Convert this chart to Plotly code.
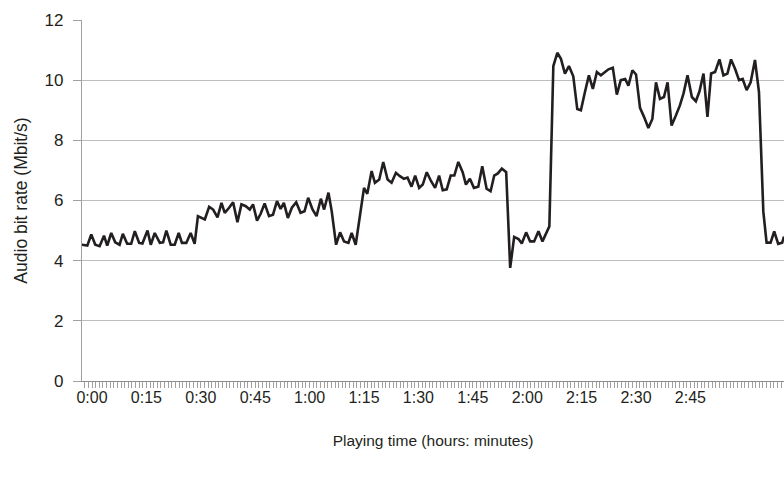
import plotly.graph_objects as go

# Playing time in minutes (0 = "0:00") and audio bit rate in Mbit/s
time_min = [
    -2.8, -1.3, -0.2, 0.9, 2.1, 3.3, 4.2, 5.3, 6.4, 7.6, 8.5, 9.7, 10.8, 11.8, 13.0, 13.9,
    15.3, 16.2, 17.3, 18.7, 19.6, 20.5, 21.7, 22.8, 23.9, 24.8, 26.0, 27.2, 28.3, 29.2,
    31.1, 32.3, 33.4, 34.6, 35.7, 36.6, 37.8, 38.9, 40.1, 41.2, 42.4, 43.5, 44.4, 45.5,
    46.5, 47.6, 48.8, 49.9, 51.0, 52.0, 52.9, 54.0, 55.1, 56.3, 57.5, 58.6, 59.6, 60.8,
    61.9, 63.1, 64.0, 65.2, 66.1, 67.3, 68.4, 69.5, 70.7, 71.6, 72.7, 73.9, 75.0, 75.9,
    77.1, 78.0, 79.2, 80.3, 81.5, 82.6, 83.8, 84.9, 86.0, 87.0, 88.1, 89.1, 90.2, 91.2,
    92.3, 93.5, 94.6, 95.7, 96.7, 97.8, 98.9, 99.9, 101.0, 102.2, 103.1, 104.2, 105.3,
    106.5, 107.6, 108.8, 109.9, 110.9, 111.9, 113.0, 114.2, 115.3, 116.4, 117.6, 118.5,
    119.7, 120.8, 121.9, 123.1, 124.2, 125.2, 126.1, 127.2, 128.3, 129.3, 130.4, 131.5,
    132.7, 133.8, 134.8, 135.9, 137.0, 138.1, 139.2, 140.3, 141.3, 142.4, 143.6, 144.7,
    145.8, 147.0, 147.9, 149.0, 150.0, 151.1, 152.2, 153.4, 154.5, 155.5, 156.6, 157.7,
    158.7, 159.8, 160.9, 162.1, 163.1, 164.2, 165.4, 166.5, 167.5, 168.6, 169.7, 170.7,
    171.8, 173.0, 174.1, 175.2, 176.2, 177.3, 178.4, 179.4, 180.5, 181.6, 182.8, 183.9,
    185.1, 186.0, 187.1, 188.1, 189.2, 190.3, 190.8,
]
bit_rate = [
    4.53, 4.50, 4.87, 4.53, 4.48, 4.83, 4.50, 4.92, 4.61, 4.53, 4.89, 4.56, 4.56, 4.98, 4.59, 4.57,
    5.00, 4.53, 4.92, 4.59, 4.61, 5.00, 4.53, 4.53, 4.92, 4.59, 4.59, 4.92, 4.56, 5.48,
    5.37, 5.79, 5.70, 5.44, 5.92, 5.59, 5.76, 5.94, 5.28, 5.87, 5.81, 5.70, 5.87, 5.33,
    5.56, 5.90, 5.48, 5.53, 5.98, 5.72, 5.92, 5.42, 5.76, 5.94, 5.59, 5.64, 6.09, 5.70,
    5.48, 6.06, 5.70, 6.26, 5.64, 4.53, 4.94, 4.64, 4.59, 4.92, 4.53, 5.48, 6.42, 6.22,
    6.98, 6.59, 6.70, 7.28, 6.70, 6.59, 6.92, 6.81, 6.72, 6.76, 6.46, 6.83, 6.42, 6.53,
    6.94, 6.64, 6.42, 6.83, 6.34, 6.37, 6.83, 6.83, 7.28, 6.94, 6.53, 6.72, 6.42,
    6.46, 7.14, 6.39, 6.31, 6.83, 6.90, 7.06, 6.94, 3.76, 4.79, 4.72, 4.57,
    4.94, 4.64, 4.64, 4.98, 4.64, 4.92, 5.14, 10.47, 10.91, 10.71, 10.22, 10.47,
    10.13, 9.04, 9.00, 9.60, 10.16, 9.71, 10.27, 10.16, 10.27, 10.36, 10.41, 9.52,
    10.00, 10.04, 9.82, 10.33, 10.19, 9.08, 8.78, 8.41, 8.71, 9.93, 9.38, 9.44,
    9.93, 8.49, 8.80, 9.16, 9.56, 10.16, 9.44, 9.30, 9.63, 10.22, 8.78, 10.22,
    10.27, 10.69, 10.16, 10.22, 10.69, 10.38, 10.00, 10.04, 9.67, 9.93, 10.67, 9.60,
    5.63, 4.60, 4.60, 4.97, 4.56, 4.60, 4.80,
]

tick_values = [0, 15, 30, 45, 60, 75, 90, 105, 120, 135, 150, 165]
tick_labels = ["0:00", "0:15", "0:30", "0:45", "1:00", "1:15", "1:30", "1:45",
               "2:00", "2:15", "2:30", "2:45"]
y_ticks = [0, 2, 4, 6, 8, 10, 12]

FONT = "Liberation Sans, Arial, Helvetica, sans-serif"
TXT = "#231f20"

fig = go.Figure(
    go.Scatter(
        x=time_min, y=bit_rate, mode="lines",
        line=dict(color="#231f20", width=2.6),
        showlegend=False, hoverinfo="skip",
    )
)

fig.update_layout(
    width=784, height=480,
    margin=dict(l=82, r=0, t=20, b=99),
    paper_bgcolor="white", plot_bgcolor="white",
    font=dict(family=FONT, size=17, color=TXT),
)

fig.update_xaxes(
    range=[-2.76, 190.8],
    automargin=False,
    tickvals=tick_values, ticktext=tick_labels,
    ticks="outside", ticklen=6, tickcolor="#a0a0a0", tickwidth=1,
    minor=dict(dtick=1, tick0=0, ticks="outside", ticklen=6,
               tickcolor="#a0a0a0", tickwidth=1, showgrid=False),
    showgrid=False, zeroline=False,
    showline=True, linecolor="#8c8c8c", linewidth=1.2,
    tickfont=dict(size=16, color=TXT),
    ticklabelstandoff=-4,
    title=dict(text="Playing time (hours: minutes)", font=dict(size=15.5, color=TXT), standoff=29),
)

fig.update_yaxes(
    range=[0, 12],
    automargin=False,
    tickvals=y_ticks,
    ticks="outside", ticklen=8, tickcolor="#a0a0a0", tickwidth=1,
    showgrid=True, gridcolor="#bdbdbd", gridwidth=1.2,
    zeroline=False,
    showline=True, linecolor="#a0a0a0", linewidth=1.2,
    tickfont=dict(size=17, color=TXT),
    ticklabelstandoff=6,
    title=dict(text="Audio bit rate (Mbit/s)", font=dict(size=17.5, color=TXT), standoff=12),
)

fig.write_html(
    "out.html",
    config={"displayModeBar": False, "staticPlot": True},
    post_script="document.body.style.margin='0';document.body.style.overflow='hidden';",
)
